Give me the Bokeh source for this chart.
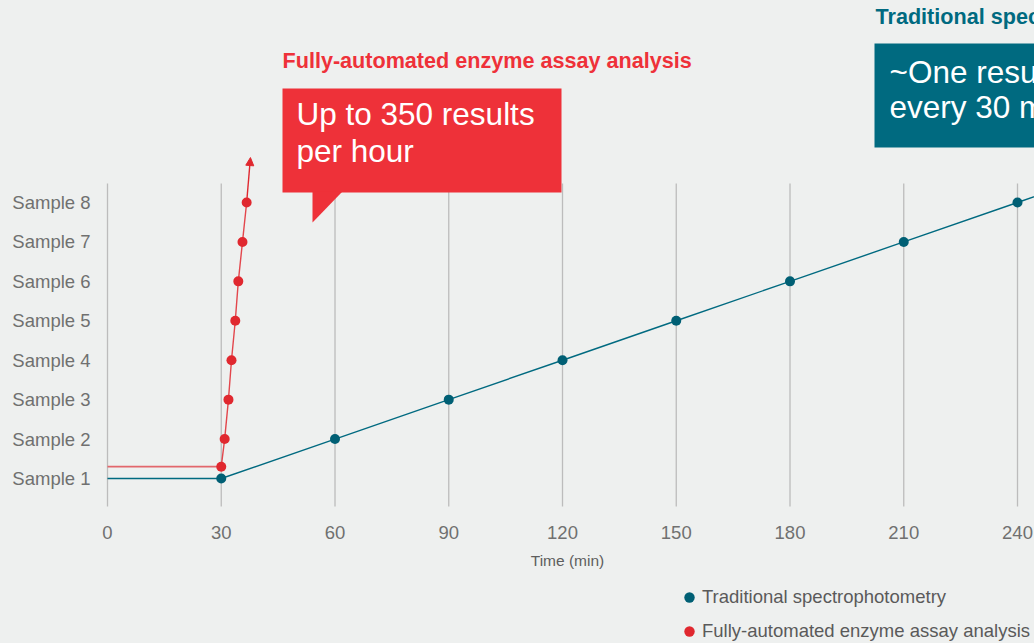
from bokeh.plotting import figure
from bokeh.layouts import column
from bokeh.models import FixedTicker, Range1d, Legend, LegendItem, Arrow, NormalHead, Label
from bokeh.embed import file_html
from bokeh.resources import INLINE

# ---------------- data ----------------
sample_levels = [1, 2, 3, 4, 5, 6, 7, 8]
sample_labels = ["Sample 1", "Sample 2", "Sample 3", "Sample 4",
                 "Sample 5", "Sample 6", "Sample 7", "Sample 8"]
time_ticks = [0, 30, 60, 90, 120, 150, 180, 210, 240]

# Traditional spectrophotometry
trad_time = [30, 60, 90, 120, 150, 180, 210, 240]
trad_sample = [1, 2, 3, 4, 5, 6, 7, 8]
trad_lead_time = [0, 30]
trad_lead_sample = [1, 1]
trad_tail_time = [240, 270]
trad_tail_sample = [8, 9]

# Fully-automated enzyme assay analysis
auto_time = [30, 30.9, 31.9, 32.7, 33.7, 34.5, 35.6, 36.7]
auto_sample = [1.3, 2, 3, 4, 5, 6, 7, 8]
auto_lead_time = [0, 30]
auto_lead_sample = [1.3, 1.3]
auto_arrow_end = [37.7, 9.14]

series_names = ["Traditional spectrophotometry", "Fully-automated enzyme assay analysis"]

# ---------------- styling ----------------
TEAL = "#006a80"
TEAL_DOT = "#005f74"
RED = "#ee3139"
RED_DOT = "#e0282f"
BG = "#eef0ef"
FONT = "Liberation Sans"
GRAY = "#707070"

# page-pixel -> data mapping helpers (layout only)
X0PX, XS = 107.0, 910.0 / 240.0
Y1PX, YS = 478.0, 276.0 / 7.0


def X(px):
    return (px - X0PX) / XS


def Y(py):
    return 1 + (Y1PX - py) / YS


W = 1034
H_MAIN = 575
H_LEG = 68
FRAME_LEFT = 100

p = figure(width=W, height=H_MAIN, output_backend="svg", toolbar_location=None,
           x_range=Range1d(X(FRAME_LEFT), X(W)), y_range=Range1d(Y(510), Y(0)),
           min_border_left=FRAME_LEFT, min_border_right=0, min_border_top=0,
           min_border_bottom=H_MAIN - 510)
p.background_fill_color = None
p.border_fill_color = BG
p.outline_line_color = None
p.grid.visible = False

# axes
p.xaxis.ticker = FixedTicker(ticks=time_ticks)
p.yaxis.ticker = FixedTicker(ticks=sample_levels)
p.yaxis.major_label_overrides = {lv: lb for lv, lb in zip(sample_levels, sample_labels)}
for ax in (p.xaxis[0], p.yaxis[0]):
    ax.axis_line_color = None
    ax.major_tick_line_color = None
    ax.minor_tick_line_color = None
    ax.major_tick_out = 0
    ax.major_tick_in = 0
    ax.major_label_text_font = FONT
    ax.major_label_text_font_size = "18.5px"
    ax.major_label_text_color = GRAY
p.yaxis.major_label_standoff = 10
p.xaxis.major_label_standoff = 15
p.xaxis.axis_label = "Time (min)"
p.xaxis.axis_label_text_font = FONT
p.xaxis.axis_label_text_font_size = "15.5px"
p.xaxis.axis_label_text_font_style = "normal"
p.xaxis.axis_label_text_color = "#5e5e5e"
p.xaxis.axis_label_standoff = 10

# vertical grid lines
p.segment(x0=time_ticks, x1=time_ticks, y0=[Y(506)] * len(time_ticks),
          y1=[Y(183)] * len(time_ticks), line_color="#bcbcbc", line_width=1.3)

# red callout
p.quad(left=[X(282)], right=[X(561)], top=[Y(88)], bottom=[Y(192)],
       fill_color=RED, line_color=None)
p.patch([X(312), X(342), X(312)], [Y(191), Y(191), Y(222)], fill_color=RED, line_color=None)
p.add_layout(Label(x=X(282), y=Y(60), text=series_names[1], text_font=FONT,
                   text_font_size="21.6px", text_font_style="bold", text_color=RED,
                   text_baseline="middle"))
p.add_layout(Label(x=X(296), y=Y(113), text="Up to 350 results", text_font=FONT,
                   text_font_size="31.5px", text_color="white", text_baseline="middle"))
p.add_layout(Label(x=X(296), y=Y(150), text="per hour", text_font=FONT,
                   text_font_size="31.5px", text_color="white", text_baseline="middle"))

# teal callout
p.quad(left=[X(874)], right=[X(1100)], top=[Y(43)], bottom=[Y(147)],
       fill_color=TEAL, line_color=None)
p.add_layout(Label(x=X(875), y=Y(16), text=series_names[0], text_font=FONT,
                   text_font_size="21.6px", text_font_style="bold", text_color=TEAL,
                   text_baseline="middle"))
p.add_layout(Label(x=X(889), y=Y(71.5), text="~One result", text_font=FONT,
                   text_font_size="31.5px", text_color="white", text_baseline="middle"))
p.add_layout(Label(x=X(889), y=Y(106.5), text="every 30 minutes", text_font=FONT,
                   text_font_size="31.5px", text_color="white", text_baseline="middle"))

# teal series
p.line(trad_lead_time + trad_time + trad_tail_time[1:],
       trad_lead_sample + trad_sample + trad_tail_sample[1:],
       line_color=TEAL, line_width=1.4)
p.scatter(trad_time, trad_sample, size=10, fill_color=TEAL_DOT, line_color=None)

# red series
p.line(auto_lead_time, auto_lead_sample, line_color="#e2676c", line_width=1.6)
p.line(auto_time, auto_sample, line_color=RED_DOT, line_width=1.4, line_alpha=0.85)
p.add_layout(Arrow(x_start=auto_time[-1], y_start=auto_sample[-1],
                   x_end=auto_arrow_end[0], y_end=auto_arrow_end[1],
                   line_color=RED_DOT, line_width=1.4,
                   end=NormalHead(size=8, fill_color=RED_DOT, line_color=RED_DOT)))
p.scatter(auto_time, auto_sample, size=10, fill_color=RED_DOT, line_color=None)

# ---------------- legend strip ----------------
q = figure(width=W, height=H_LEG, output_backend="svg", toolbar_location=None,
           x_range=Range1d(0, W), y_range=Range1d(0, H_LEG),
           min_border=0, x_axis_location=None, y_axis_location=None)
q.background_fill_color = None
q.border_fill_color = BG
q.outline_line_color = None
q.grid.visible = False
leg_trad = q.scatter(x=[-100], y=[-100], size=10, fill_color=TEAL_DOT, line_color=None)
leg_auto = q.scatter(x=[-100], y=[-100], size=10, fill_color=RED_DOT, line_color=None)

legend = Legend(items=[LegendItem(label=series_names[0], renderers=[leg_trad]),
                       LegendItem(label=series_names[1], renderers=[leg_auto])],
                location=(676 - FRAME_LEFT, -5), orientation="vertical")
legend.background_fill_alpha = 0
legend.border_line_color = None
legend.padding = 0
legend.margin = 0
legend.spacing = 0
legend.glyph_width = 26
legend.glyph_height = 34
legend.label_height = 20
legend.label_standoff = 0
legend.label_text_font = FONT
legend.label_text_font_size = "18.5px"
legend.label_text_color = "#5a5a5a"
q.add_layout(legend)

layout = column(p, q, spacing=0, styles={"background-color": BG})
open("out.html", "w").write(file_html(layout, INLINE))
